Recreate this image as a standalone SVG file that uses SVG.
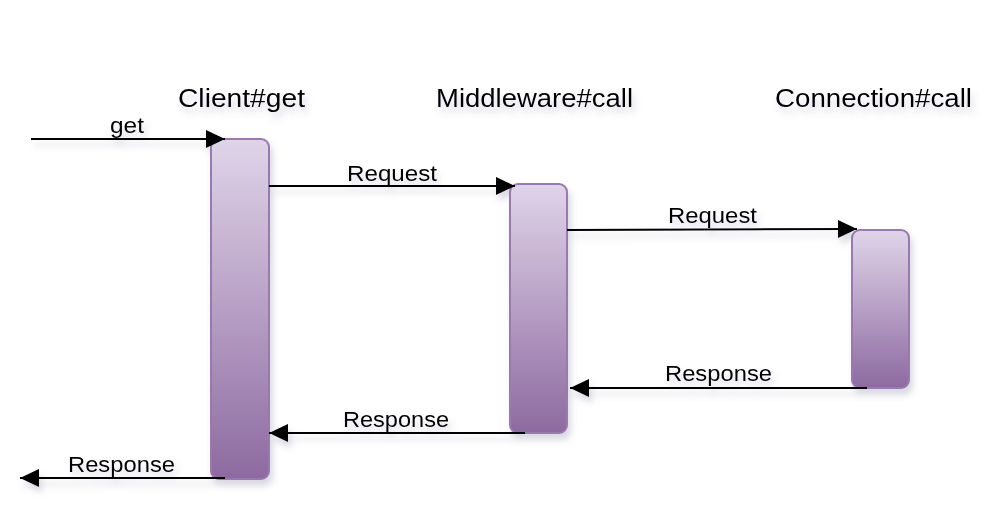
<svg xmlns="http://www.w3.org/2000/svg" width="1001" height="514" viewBox="0 0 1001 514">
<style>
.t{font-family:"Liberation Sans",Arial,sans-serif;font-size:25px;fill:#000}
.l{font-family:"Liberation Sans",Arial,sans-serif;font-size:22px;fill:#000}
.act{fill:url(#g);stroke:#9a78b0;stroke-width:2}
.c{stroke:#000;stroke-width:2;fill:none;marker-end:url(#a)}
</style>
<defs>
<linearGradient id="g" x1="0" y1="0" x2="0" y2="1">
<stop offset="0" stop-color="#e0d4e9"/>
<stop offset="1" stop-color="#8d6aa0"/>
</linearGradient>
<filter id="s" x="-20%" y="-20%" width="140%" height="160%">
<feDropShadow dx="3" dy="6" stdDeviation="3" flood-color="#6a6a90" flood-opacity="0.25"/>
</filter>
<marker id="a" markerUnits="userSpaceOnUse" markerWidth="20" markerHeight="20" refX="19" refY="9" orient="auto">
<path d="M0,0 L19,9 L0,18 Z" fill="#000"/>
</marker>
</defs>
<rect width="1001" height="514" fill="#fff"/>
<g filter="url(#s)">
<g id="client">
<rect class="act" x="211" y="139" width="58" height="340" rx="8"/>
<text class="t" x="178" y="107" textLength="127" lengthAdjust="spacingAndGlyphs">Client#get</text>
</g>
<g id="middleware">
<rect class="act" x="510" y="184" width="57" height="249" rx="8"/>
<text class="t" x="436" y="107" textLength="197" lengthAdjust="spacingAndGlyphs">Middleware#call</text>
</g>
<g id="connection">
<rect class="act" x="852" y="230" width="57" height="158" rx="8"/>
<text class="t" x="775" y="107" textLength="197" lengthAdjust="spacingAndGlyphs">Connection#call</text>
</g>
<g id="connectors">
<path class="c" d="M31,139 H225"/>
<path class="c" d="M269,186 H515"/>
<path class="c" d="M567,230 L857,229"/>
<path class="c" d="M867,388 H570"/>
<path class="c" d="M525,433 H269"/>
<path class="c" d="M225,478 H20"/>
<text class="l" x="110" y="133" textLength="34" lengthAdjust="spacingAndGlyphs">get</text>
<text class="l" x="347" y="181" textLength="90" lengthAdjust="spacingAndGlyphs">Request</text>
<text class="l" x="668" y="223" textLength="89" lengthAdjust="spacingAndGlyphs">Request</text>
<text class="l" x="665" y="381" textLength="107" lengthAdjust="spacingAndGlyphs">Response</text>
<text class="l" x="343" y="427" textLength="106" lengthAdjust="spacingAndGlyphs">Response</text>
<text class="l" x="68" y="472" textLength="107" lengthAdjust="spacingAndGlyphs">Response</text>
</g>
</g>
</svg>
